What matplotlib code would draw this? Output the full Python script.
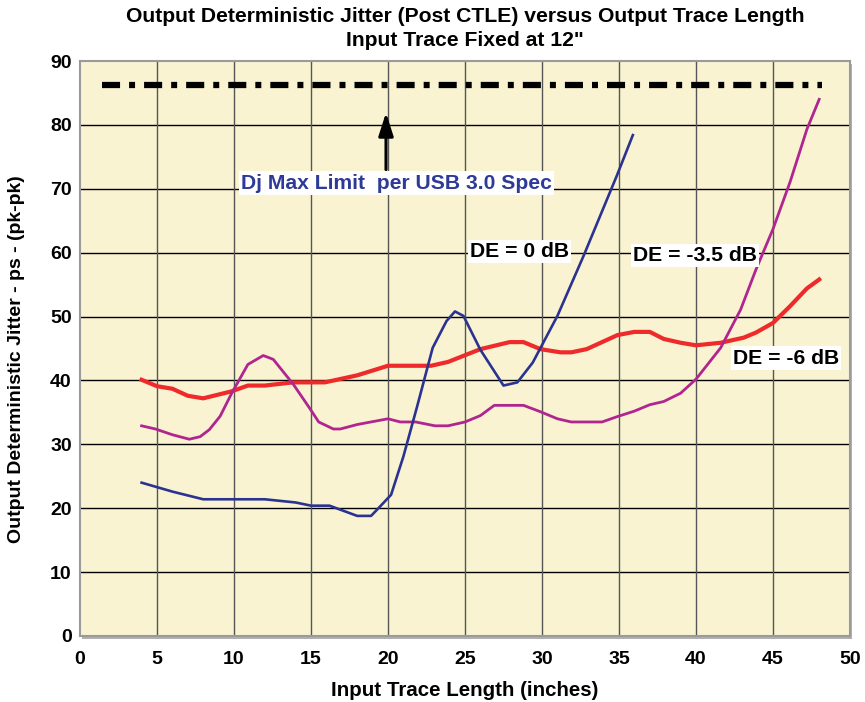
import matplotlib
matplotlib.use("Agg")
import matplotlib.pyplot as plt
from matplotlib.patches import Rectangle

plt.rcParams['lines.scale_dashes'] = False

# ---- data ----
x_de0 = [4, 5, 6, 8, 12, 14, 15, 16.2, 18, 18.9, 19.3, 20.2, 21.0, 21.9, 22.9, 23.8, 24.35,
         24.9, 26.0, 27.5, 28.4, 29.4, 31.0, 32.7, 34.85, 35.9]
y_de0 = [24.0, 23.3, 22.6, 21.4, 21.4, 20.9, 20.4, 20.4, 18.8, 18.8, 19.8, 22.1, 28.1, 36.0,
         45.1, 49.3, 50.8, 50.1, 44.8, 39.2, 39.7, 42.8, 50.1, 59.5, 72.0, 78.4]

x_de35 = [4, 4.9, 6, 7.1, 7.8, 8.4, 9.1, 9.85, 10.9, 11.9, 12.55, 13.85, 14.9, 15.5, 16.45,
          16.9, 18, 20, 20.8, 21.8, 23.05, 23.9, 25, 26, 26.9, 28.8, 29.9, 31, 31.9, 33.9,
          34.9, 36, 37, 37.9, 39, 40, 41.6, 42.9, 43.9, 45, 46.1, 47.2, 48]
y_de35 = [32.9, 32.4, 31.5, 30.8, 31.2, 32.3, 34.4, 38.0, 42.5, 43.9, 43.3, 39.4, 35.7, 33.5,
          32.4, 32.4, 33.1, 34.0, 33.5, 33.5, 32.9, 32.9, 33.5, 34.5, 36.1, 36.1, 35.1, 34.0,
          33.5, 33.5, 34.35, 35.2, 36.2, 36.7, 38.0, 40.2, 45.1, 51.1, 57.4, 63.7, 71.0,
          79.3, 84.0]

x_de6 = [4, 5, 6, 7, 8, 9.85, 10.9, 12, 13.85, 15.9, 18, 20, 22.8, 23.9, 26, 27.9, 28.8,
         29.9, 31.2, 31.9, 32.9, 34.9, 36, 37, 37.9, 39, 40, 41.6, 43.1, 43.9, 45, 46.1,
         47.2, 48]
y_de6 = [40.1, 39.1, 38.7, 37.6, 37.2, 38.3, 39.2, 39.2, 39.7, 39.7, 40.8, 42.3, 42.3, 42.9,
         44.9, 46.0, 46.0, 44.9, 44.4, 44.4, 44.9, 47.1, 47.6, 47.6, 46.5, 45.9, 45.5, 45.9,
         46.7, 47.5, 49.0, 51.6, 54.4, 55.8]

limit_x = [1.4, 48.2]
limit_y = [86.2, 86.2]

x_ticks = [0, 5, 10, 15, 20, 25, 30, 35, 40, 45, 50]
y_ticks = [0, 10, 20, 30, 40, 50, 60, 70, 80, 90]

font = ['Liberation Sans', 'DejaVu Sans']

fig = plt.figure(figsize=(8.65, 7.02), dpi=100)
ax = fig.add_axes([80/865, 66/702, 770/865, 575/702])
ax.set_zorder(2)

# shadow behind axes
fig.patches.append(Rectangle((82/865, 63/702), 770/865, 575/702, transform=fig.transFigure,
                             facecolor='#b0b0b0', edgecolor='none', zorder=-5))

ax.set_facecolor('#F9F3D1')
ax.set_xlim(0, 50)
ax.set_ylim(0, 90)
ax.set_xticks(x_ticks)
ax.set_yticks(y_ticks)
ax.tick_params(axis='y', length=0, pad=6)
ax.tick_params(axis='x', length=0, pad=11)
for lab in ax.get_xticklabels() + ax.get_yticklabels():
    lab.set_fontfamily(font)
    lab.set_fontweight('bold')
    lab.set_fontsize(14)

for v in y_ticks[1:-1]:
    ax.axhline(v, color='black', lw=1.0, zorder=1)
for v in x_ticks[1:-1]:
    ax.axvline(v, color='#555555', lw=1.0, zorder=1)
for s in ax.spines.values():
    s.set_color('#9a9a9a')
    s.set_linewidth(1.5)

ax.plot(limit_x, limit_y, color='black', lw=4.5, dashes=(13, 6.5, 4.3, 6.5),
        solid_capstyle='butt', dash_capstyle='butt', zorder=3)

ax.plot(x_de6, y_de6, color='#EE2A2A', lw=3.0, zorder=4)
ax.plot(x_de35, y_de35, color='#B0258F', lw=2.0, zorder=5)
ax.plot(x_de0, y_de0, color='#2B3391', lw=1.9, zorder=6)

ax.annotate('', xy=(19.87, 81.9), xytext=(19.87, 73.0),
            arrowprops=dict(arrowstyle='-|>,head_length=1.4,head_width=0.45',
                            color='black', lw=2.2, shrinkA=0, shrinkB=0), zorder=7)

box = dict(facecolor='white', edgecolor='none', pad=1.5)
ax.text(10.45, 70.9, 'Dj Max Limit  per USB 3.0 Spec', color='#2E3A96', fontsize=15.2,
        fontweight='bold', family=font, va='center', ha='left', bbox=box, zorder=8)
ax.text(25.3, 60.2, 'DE = 0 dB', color='black', fontsize=15.2, fontweight='bold',
        family=font, va='center', ha='left', bbox=box, zorder=8)
ax.text(35.9, 59.6, 'DE = -3.5 dB', color='black', fontsize=15.2, fontweight='bold',
        family=font, va='center', ha='left', bbox=box, zorder=8)
ax.text(42.4, 43.5, 'DE = -6 dB', color='black', fontsize=15.2, fontweight='bold',
        family=font, va='center', ha='left', bbox=box, zorder=8)

fig.text(465/865, 1 - 17/702, 'Output Deterministic Jitter (Post CTLE) versus Output Trace Length',
         ha='center', va='center', fontsize=15.2, fontweight='bold', family=font)
fig.text(465/865, 1 - 40/702, 'Input Trace Fixed at 12"',
         ha='center', va='center', fontsize=15.2, fontweight='bold', family=font)

ax.set_xlabel('Input Trace Length (inches)', fontsize=14.8, fontweight='bold', family=font,
              labelpad=9)
ax.set_ylabel('Output Deterministic Jitter - ps - (pk-pk)', fontsize=14, fontweight='bold',
              family=font)
ax.yaxis.set_label_coords(-(80 - 25) / 770, (636 - 359) / 575)

fig.savefig('out.png', dpi=100, facecolor='white')
